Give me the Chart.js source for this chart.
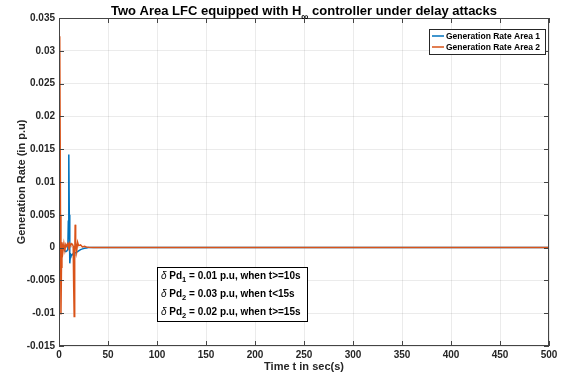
<!DOCTYPE html>
<html>
<head>
<meta charset="utf-8">
<script src="https://cdn.jsdelivr.net/npm/chart.js@4.4.1/dist/chart.umd.min.js"></script>
<style>
html,body{margin:0;padding:0;background:#fff;}
#wrap{width:564px;height:375px;position:relative;}
</style>
</head>
<body>
<div id="wrap"><canvas id="c" width="564" height="375"></canvas></div>
<script>
// ---- data ----
const chartTitle = "Two Area LFC equipped with H";
const titleSub = "\u221E";
const titleRest = " controller under delay attacks";
const xAxisTitle = "Time t in sec(s)";
const yAxisTitle = "Generation Rate (in p.u)";
const seriesNames = ["Generation Rate Area 1", "Generation Rate Area 2"];
const time = [0, 0.5, 1, 1.5, 2, 2.5, 3, 4, 5, 6, 7, 8, 9, 9.5, 10, 10.5, 11, 11.5, 12, 13, 14, 14.5, 15, 15.5, 16, 16.5, 17, 18, 19, 20, 22, 24, 26, 28, 30, 35, 40, 50, 60, 80, 100, 200, 300, 400, 500];
const area1 = [0.002, 0.0018, 0.0012, 0.0006, 0.0003, 0.0002, 0.0004, 0.0001, -0.0002, -0.0005, -0.0006, -0.0005, -0.0003, 0.004, 0.0142, 0.005, -0.0024, -0.0015, -0.001, -0.0012, -0.001, -0.0009, -0.0008, -0.0012, -0.0009, -0.0008, -0.0008, -0.0007, -0.0006, -0.0005, -0.0003, -0.0002, -0.0001, -0.00005, 0, 0, 0, 0, 0, 0, 0, 0, 0, 0, 0];
const area2 = [0, 0.018, 0.0322, 0.005, -0.0102, -0.003, 0.0008, -0.0006, 0.0006, -0.0004, 0.0005, 0.0002, 0.0006, 0.0004, 0.0003, 0.0006, 0.0002, 0.0005, 0.0004, 0.0006, 0.0004, 0.0002, -0.006, -0.0105, -0.002, 0.0035, 0.0008, -0.0006, 0.0008, 0.0003, 0.0004, 0.0001, 0.0002, 0.0001, 0.00005, 0, 0, 0, 0, 0, 0, 0, 0, 0, 0];
const xTickValues = [0, 50, 100, 150, 200, 250, 300, 350, 400, 450, 500];
const yTickValues = [-0.015, -0.01, -0.005, 0, 0.005, 0.01, 0.015, 0.02, 0.025, 0.03, 0.035];
const yTickLabels = ["-0.015", "-0.01", "-0.005", "0", "0.005", "0.01", "0.015", "0.02", "0.025", "0.03", "0.035"];
const noteLines = [
  {sub: "1", rest: " = 0.01 p.u, when t>=10s"},
  {sub: "2", rest: " = 0.03 p.u, when t<15s"},
  {sub: "2", rest: " = 0.02 p.u, when t>=15s"}
];

const BLUE = "#0072BD", ORANGE = "#D95319";
const FONT = "'Liberation Sans', Arial, sans-serif";
const TXT = "#262626";

function pts(ys){ return time.map((t,i)=>({x:t, y:ys[i]})); }

const overlay = {
  id: "overlay",
  afterDraw(chart){
    const ctx = chart.ctx;
    const a = chart.chartArea;
    ctx.save();
    // axes box
    ctx.strokeStyle = "#444";
    ctx.lineWidth = 1;
    ctx.strokeRect(a.left+0.5, a.top+0.5, a.right-a.left-1, a.bottom-a.top-1);
    // inward ticks
    const xs = chart.scales.x, ys = chart.scales.y;
    ctx.beginPath();
    xTickValues.forEach(v=>{
      const px = Math.round(xs.getPixelForValue(v))+0.5;
      ctx.moveTo(px, a.bottom); ctx.lineTo(px, a.bottom-5);
      ctx.moveTo(px, a.top); ctx.lineTo(px, a.top+5);
    });
    yTickValues.forEach(v=>{
      const py = Math.round(ys.getPixelForValue(v))+0.5;
      ctx.moveTo(a.left, py); ctx.lineTo(a.left+5, py);
      ctx.moveTo(a.right, py); ctx.lineTo(a.right-5, py);
    });
    ctx.stroke();

    // y axis title
    ctx.save();
    ctx.translate(22, (a.top+a.bottom)/2);
    ctx.rotate(-Math.PI/2);
    ctx.fillStyle = TXT;
    ctx.font = "bold 11px " + FONT;
    ctx.textAlign = "center"; ctx.textBaseline = "middle";
    ctx.fillText(yAxisTitle, 0, 0);
    ctx.restore();

    // title
    ctx.fillStyle = "#000";
    ctx.textBaseline = "alphabetic";
    const tf = "bold 13px " + FONT, sf = "bold 10px " + FONT;
    ctx.font = tf; const w1 = ctx.measureText(chartTitle).width, w3 = ctx.measureText(titleRest).width;
    ctx.font = sf; const w2 = ctx.measureText(titleSub).width;
    const tw = w1+w2+w3;
    let tx = (a.left+a.right)/2 - tw/2;
    ctx.textAlign = "left";
    ctx.font = tf; ctx.fillText(chartTitle, tx, 15);
    ctx.font = sf; ctx.fillText(titleSub, tx+w1, 20);
    ctx.font = tf; ctx.fillText(titleRest, tx+w1+w2, 15);

    // legend
    const lx = 429, ly = 29, lw = 116, lh = 25;
    ctx.fillStyle = "#fff";
    ctx.fillRect(lx, ly, lw, lh);
    ctx.strokeStyle = "#262626";
    ctx.strokeRect(lx+0.5, ly+0.5, lw, lh);
    ctx.font = "bold 8.5px " + FONT;
    ctx.textBaseline = "middle";
    [[BLUE, seriesNames[0], 36], [ORANGE, seriesNames[1], 47]].forEach(([c, s, y])=>{
      ctx.strokeStyle = c; ctx.lineWidth = 1.5;
      ctx.beginPath(); ctx.moveTo(lx+3, y); ctx.lineTo(lx+15, y); ctx.stroke();
      ctx.fillStyle = "#000"; ctx.fillText(s, lx+17, y+0.5);
    });

    // note box
    const bx = 157, by = 267, bw = 150, bh = 54;
    ctx.fillStyle = "#fff"; ctx.fillRect(bx, by, bw, bh);
    ctx.strokeStyle = "#000"; ctx.lineWidth = 1;
    ctx.strokeRect(bx+0.5, by+0.5, bw, bh);
    ctx.textBaseline = "alphabetic";
    const nys = [279, 297, 315];
    noteLines.forEach((ln, i)=>{
      let x = bx+4; const y = nys[i];
      ctx.fillStyle = "#000";
      ctx.font = "italic 10px " + FONT; ctx.fillText("\u03B4", x, y); x += ctx.measureText("\u03B4 ").width;
      ctx.font = "bold 10px " + FONT; ctx.fillText("Pd", x, y); x += ctx.measureText("Pd").width;
      ctx.font = "bold 7.5px " + FONT; ctx.fillText(ln.sub, x, y+3); x += ctx.measureText(ln.sub).width;
      ctx.font = "bold 10px " + FONT; ctx.fillText(ln.rest, x, y);
    });
    ctx.restore();
  }
};

new Chart(document.getElementById("c"), {
  type: "line",
  data: {
    datasets: [
      {label: seriesNames[0], data: pts(area1), borderColor: BLUE, borderWidth: 1.5, pointRadius: 0, tension: 0, order: 1},
      {label: seriesNames[1], data: pts(area2), borderColor: ORANGE, borderWidth: 1.5, pointRadius: 0, tension: 0, order: 0}
    ]
  },
  options: {
    responsive: false,
    animation: false,
    layout: {padding: {top: 18, right: 15, bottom: 0, left: 0}},
    plugins: {legend: {display: false}, title: {display: false}, tooltip: {enabled: false}},
    scales: {
      x: {
        type: "linear", min: 0, max: 500,
        afterBuildTicks: s => { s.ticks = xTickValues.map(v=>({value:v})); },
        afterFit: s => { s.height = 29; },
        grid: {color: "rgba(0,0,0,0.08)", drawTicks: false, tickLength: 0},
        border: {display: false},
        ticks: {padding: 3, maxRotation: 0, autoSkip: false, color: TXT, font: {family: FONT, size: 10, weight: "bold"}},
        title: {display: true, text: xAxisTitle, color: TXT, padding: {top: 0, bottom: 1}, font: {family: FONT, size: 11, weight: "bold"}}
      },
      y: {
        type: "linear", min: -0.015, max: 0.035,
        afterBuildTicks: s => { s.ticks = yTickValues.map(v=>({value:v})); },
        afterFit: s => { s.width = 59; },
        grid: {color: "rgba(0,0,0,0.08)", drawTicks: false, tickLength: 0},
        border: {display: false},
        ticks: {padding: 4, autoSkip: false, color: TXT, font: {family: FONT, size: 10, weight: "bold"},
          callback: (v, i) => yTickLabels[i]},
        title: {display: false}
      }
    }
  },
  plugins: [overlay]
});
</script>
</body>
</html>
